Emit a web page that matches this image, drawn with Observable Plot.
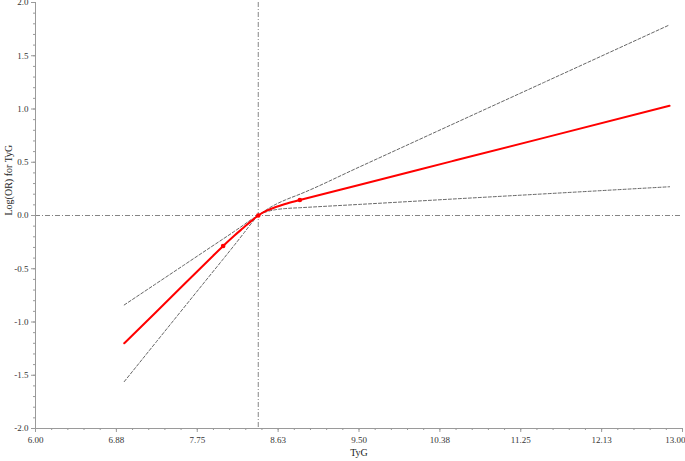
<!DOCTYPE html>
<html>
<head>
<meta charset="utf-8">
<script src="https://cdn.jsdelivr.net/npm/d3@7"></script>
<script src="https://cdn.jsdelivr.net/npm/@observablehq/plot@0.6"></script>
<style>
  html, body { margin: 0; padding: 0; background: #fff; }
  #chart svg { display: block; }
</style>
</head>
<body>
<div id="chart"></div>
<script>
// Data
const tyg      = [6.96, 7.3, 7.6, 7.9, 8.03, 8.15, 8.25, 8.33, 8.41, 8.5, 8.6, 8.7, 8.86, 9.5, 10.5, 11.5, 12.86];
const logOR    = [-1.20, -0.91, -0.653, -0.397, -0.286, -0.19, -0.115, -0.055, 0, 0.045, 0.08, 0.108, 0.145, 0.287, 0.508, 0.729, 1.03];
const upperCI  = [-0.84, -0.643, -0.469, -0.295, -0.22, -0.15, -0.09, -0.04, 0, 0.055, 0.105, 0.145, 0.20, 0.454, 0.852, 1.249, 1.79];
const lowerCI  = [-1.56, -1.194, -0.871, -0.549, -0.41, -0.28, -0.17, -0.08, 0, 0.035, 0.055, 0.065, 0.073, 0.104, 0.154, 0.203, 0.27];
const knotX    = [8.03, 8.41, 8.86];
const knotY    = [-0.286, 0, 0.145];
const refX     = 8.41;
const xTicks      = [6, 6.875, 7.75, 8.625, 9.5, 10.375, 11.25, 12.125, 13];
const xTickLabels = ["6.00", "6.88", "7.75", "8.63", "9.50", "10.38", "11.25", "12.13", "13.00"];
const yTicks      = [-2, -1.5, -1, -0.5, 0, 0.5, 1, 1.5, 2];
const yTickLabels = ["-2.0", "-1.5", "-1.0", "-0.5", "0.0", "0.5", "1.0", "1.5", "2.0"];

const rows = tyg.map((x, i) => ({x, est: logOR[i], up: upperCI[i], lo: lowerCI[i]}));
const knots = knotX.map((x, i) => ({x, y: knotY[i]}));
const xLab = xTicks.map((x, i) => ({x, y: -2, t: xTickLabels[i]}));
const xLabMain = xLab.slice(0, -1);
const xLabLast = xLab.slice(-1);
const xMinor = d3.range(6, 13.0001, 0.175);
const yMinor = d3.range(-2, 2.0001, 0.1);

const axisColor = "#9a9a9a";
const ciColor = "#555";

const chart = Plot.plot({
  width: 685,
  height: 461,
  marginLeft: 35,
  marginRight: 3,
  marginTop: 2,
  marginBottom: 33,
  style: {fontFamily: "'Liberation Serif', serif", fontSize: "9px", color: "#333", background: "#fff", overflow: "visible"},
  x: {domain: [6, 13]},
  y: {domain: [-2, 2]},
  marks: [
    Plot.ruleY([0], {stroke: "#666", strokeWidth: 0.8, strokeDasharray: "5,2,1,2"}),
    Plot.ruleX([refX], {stroke: "#666", strokeWidth: 0.8, strokeDasharray: "5,2,1,2"}),
    Plot.line(rows, {x: "x", y: "up", stroke: ciColor, strokeWidth: 0.9, strokeDasharray: "3,2", curve: "monotone-x"}),
    Plot.line(rows, {x: "x", y: "lo", stroke: ciColor, strokeWidth: 0.9, strokeDasharray: "3,2", curve: "monotone-x"}),
    Plot.line(rows, {x: "x", y: "est", stroke: "#ff0000", strokeWidth: 2, curve: "monotone-x"}),
    Plot.dot(knots, {x: "x", y: "y", r: 2.3, fill: "#ff0000", stroke: "none"}),
    Plot.ruleX([6], {stroke: axisColor, strokeWidth: 1}),
    Plot.ruleY([-2], {stroke: axisColor, strokeWidth: 1}),
    Plot.axisX({ticks: xMinor, tickSize: 2, stroke: axisColor, tickFormat: () => "", label: null}),
    Plot.axisY({ticks: yMinor, tickSize: 2, stroke: axisColor, tickFormat: () => "", label: null}),
    Plot.axisX({ticks: xTicks, tickSize: 4, stroke: axisColor, tickFormat: () => "", label: null}),
    Plot.axisY({ticks: yTicks, tickSize: 4, stroke: axisColor, tickPadding: 3,
      tickFormat: (d) => yTickLabels[yTicks.indexOf(d)], label: null}),
    Plot.text(xLabMain, {x: "x", y: "y", text: "t", dy: 12, fill: "#333"}),
    Plot.text(xLabLast, {x: "x", y: "y", text: "t", dy: 12, dx: 3, textAnchor: "end", fill: "#333"}),
    Plot.text(["TyG"], {frameAnchor: "bottom", dy: 27, fontSize: 10, fill: "#222"}),
    Plot.text(["Log(OR) for TyG"], {frameAnchor: "left", dx: -27, rotate: -90, fontSize: 10, fill: "#222"})
  ]
});
document.getElementById("chart").appendChild(chart);
</script>
</body>
</html>
